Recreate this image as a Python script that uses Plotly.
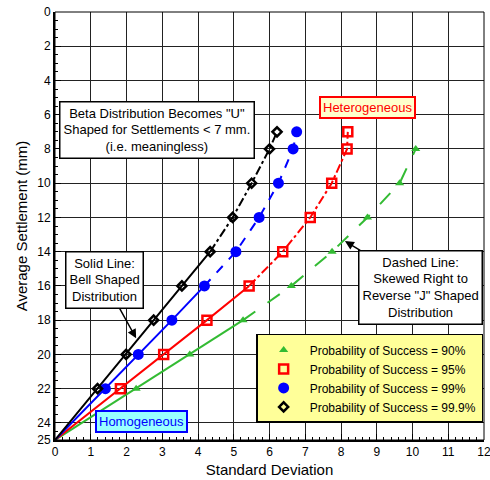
import plotly.graph_objects as go

# ---- data ----
settlement = [25, 22, 20, 18, 16, 14, 12, 10, 8, 7]
sd_999 = [0, 1.19, 1.99, 2.76, 3.55, 4.34, 4.97, 5.50, 6.00, 6.21]
sd_99 = [0, 1.41, 2.33, 3.27, 4.18, 5.06, 5.71, 6.25, 6.66, 6.76]
sd_95 = [0, 1.83, 3.04, 4.25, 5.43, 6.37, 7.14, 7.74, 8.17, 8.19]
settlement_90 = [25, 22, 20, 18, 16, 14, 12, 10, 8]
sd_90 = [0, 2.27, 3.77, 5.26, 6.61, 7.75, 8.74, 9.64, 10.09]

series = [
    # name, x, y, color, symbol, size, marker line width, solid-until index, dash
    ("Probability of Success = 90%", sd_90, settlement_90, "#33bb33", "triangle-up", 8, 0, 3, "longdash"),
    ("Probability of Success = 95%", sd_95, settlement, "#ff0000", "square-open", 9, 2.5, 4, "dashdot"),
    ("Probability of Success = 99%", sd_99, settlement, "#0000ff", "circle", 11, 0, 4, "dash"),
    ("Probability of Success = 99.9%", sd_999, settlement, "#000000", "diamond-open", 7, 2.5, 5, "dashdot"),
]

fig = go.Figure()
for name, xs, ys, col, sym, sz, mlw, k, dash in series:
    fig.add_trace(go.Scatter(x=xs[:k + 1], y=ys[:k + 1], mode="lines",
                             line=dict(color=col, width=2), showlegend=False, hoverinfo="skip"))
    fig.add_trace(go.Scatter(x=xs[k:], y=ys[k:], mode="lines",
                             line=dict(color=col, width=2, dash=dash), showlegend=False, hoverinfo="skip"))
for name, xs, ys, col, sym, sz, mlw, k, dash in series:
    fig.add_trace(go.Scatter(x=xs[1:], y=ys[1:], mode="markers", name=name,
                             marker=dict(symbol=sym, size=sz, color=col,
                                         line=dict(color=col, width=mlw))))

font = "Arial, Liberation Sans, sans-serif"
box = dict(showarrow=False, font=dict(family=font, size=13, color="black"),
           bgcolor="white", bordercolor="black", borderwidth=1.5, borderpad=3,
           xref="x", yref="y")

annotations = [
    dict(box, x=2.85, y=6.92, text='Beta Distribution Becomes "U"<br>Shaped for Settlements < 7 mm.<br>(i.e. meaningless)'),
    dict(box, x=8.73, y=5.57, text="Heterogeneous", font=dict(family=font, size=13, color="#ff0000"),
         bgcolor="#ffffcc", bordercolor="#ff0000", borderwidth=2, borderpad=2),
    dict(box, x=2.43, y=23.9, text="Homogeneous", font=dict(family=font, size=13, color="#0000ff"),
         bgcolor="#99ffff", bordercolor="#0000ff", borderwidth=2, borderpad=2),
    dict(box, x=2.27, y=19.06, text="Solid Line:<br>Bell Shaped<br>Distribution",
         showarrow=True, ax=-32, ay=-58, arrowhead=2, arrowsize=1.2, arrowwidth=1.5, arrowcolor="black"),
    dict(box, x=8.11, y=13.38, text='Dashed Line:<br>Skewed Right to<br>Reverse "J" Shaped<br>Distribution',
         showarrow=True, ax=76, ay=46, arrowhead=2, arrowsize=1.2, arrowwidth=1.5, arrowcolor="black"),
]

fig.update_layout(
    width=490, height=480,
    margin=dict(l=55, r=6, t=12, b=40, autoexpand=False),
    paper_bgcolor="white", plot_bgcolor="white",
    font=dict(family=font, size=12, color="black"),
    showlegend=True,
    legend=dict(x=0.998, xanchor="right", y=0.04, yanchor="bottom",
                bgcolor="#ffff99", bordercolor="black", borderwidth=1.5,
                font=dict(family=font, size=12, color="black"), traceorder="normal",
                itemwidth=42, tracegroupgap=0),
    annotations=annotations,
    shapes=[dict(type="rect", xref="paper", yref="paper", x0=0, x1=1, y0=0, y1=1,
                 line=dict(color="black", width=1), layer="above")],
)
fig.update_xaxes(range=[0, 12], dtick=1, tick0=0, showgrid=True, gridcolor="#222", gridwidth=1,
                 showline=True, linecolor="black", linewidth=2, ticks="inside", ticklen=6,
                 tickcolor="black", zeroline=False, ticklabeloverflow="allow",
                 minor=dict(dtick=0.2, tick0=0, ticks="inside", ticklen=3, tickcolor="black", showgrid=False),
                 title=dict(text="Standard Deviation", font=dict(size=15), standoff=6),
                 tickfont=dict(size=12))
fig.update_yaxes(range=[25, 0], tickvals=[0, 2, 4, 6, 8, 10, 12, 14, 16, 18, 20, 22, 24, 25],
                 showgrid=True, gridcolor="#222", gridwidth=1,
                 showline=True, linecolor="black", linewidth=2, ticks="inside", ticklen=6,
                 tickcolor="black", zeroline=False, ticklabeloverflow="allow",
                 minor=dict(dtick=0.5, tick0=0, ticks="inside", ticklen=3, tickcolor="black", showgrid=False),
                 title=dict(text="Average Settlement (mm)", font=dict(size=15), standoff=6),
                 tickfont=dict(size=12))

fig.write_html("out.html", config={"displayModeBar": False},
               post_script="document.body.style.margin='0';document.body.style.overflow='hidden';")
